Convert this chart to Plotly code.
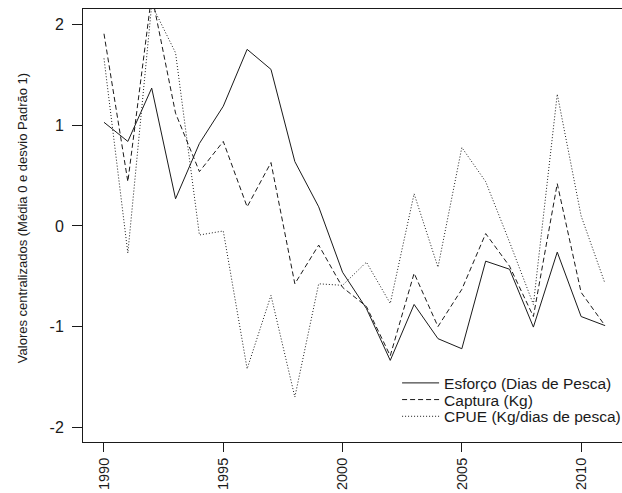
import plotly.graph_objects as go

years = list(range(1990, 2012))
esforco = [1.03, 0.84, 1.37, 0.27, 0.82, 1.19, 1.755, 1.556, 0.64, 0.19, -0.46, -0.82,
           -1.336, -0.78, -1.12, -1.22, -0.35, -0.43, -1.005, -0.26, -0.90, -0.99]
captura = [1.91, 0.44, 2.30, 1.12, 0.54, 0.84, 0.19, 0.63, -0.575, -0.19, -0.61, -0.80,
           -1.29, -0.47, -1.00, -0.63, -0.076, -0.40, -0.90, 0.42, -0.66, -0.99]
cpue = [1.665, -0.27, 2.20, 1.72, -0.09, -0.05, -1.42, -0.69, -1.70, -0.575, -0.59, -0.36,
        -0.77, 0.32, -0.41, 0.78, 0.44, -0.16, -0.78, 1.31, 0.10, -0.57]

names = ["Esforço (Dias de Pesca)", "Captura (Kg)", "CPUE (Kg/dias de pesca)"]
xticks = [1990, 1995, 2000, 2005, 2010]
yticks = [-2, -1, 0, 1, 2]

FONT = "Liberation Sans, Arial, sans-serif"
ink = "#1a1a1a"

fig = go.Figure()
fig.add_trace(go.Scatter(x=years, y=esforco, mode="lines", name=names[0], legend="legend",
                         line=dict(color=ink, width=1, dash="solid")))
fig.add_trace(go.Scatter(x=years, y=captura, mode="lines", name=names[1], legend="legend2",
                         line=dict(color=ink, width=1, dash="5px,3px")))
fig.add_trace(go.Scatter(x=years, y=cpue, mode="lines", name=names[2], legend="legend3",
                         line=dict(color=ink, width=1, dash="1px,2px")))

def leg(ypos):
    return dict(x=0.5795, y=ypos, xanchor="left", yanchor="middle",
                bgcolor="rgba(0,0,0,0)", borderwidth=0,
                font=dict(size=15.5, family=FONT, color=ink), itemwidth=37)

fig.update_layout(
    width=640, height=493,
    margin=dict(l=83, r=15, t=9, b=51, autoexpand=False),
    paper_bgcolor="white", plot_bgcolor="white",
    font=dict(family=FONT, size=16, color=ink),
    showlegend=True,
    legend=leg(0.1355), legend2=leg(0.097), legend3=leg(0.0584),
    xaxis=dict(range=[1989.12, 2011.84], tickvals=xticks, ticktext=[str(v) for v in xticks],
               tickangle=-90, ticks="outside", ticklen=9, tickcolor=ink, tickwidth=1,
               automargin=False,
               showline=True, linecolor=ink, linewidth=1, mirror=True,
               showgrid=False, zeroline=False, tickfont=dict(size=14.5)),
    yaxis=dict(range=[-2.147, 2.156], tickvals=yticks, ticktext=[str(v) for v in yticks],
               ticks="outside", ticklen=10, tickcolor=ink, tickwidth=1,
               ticklabelstandoff=5, automargin=False,
               showline=True, linecolor=ink, linewidth=1, mirror=False,
               showgrid=False, zeroline=False, tickfont=dict(size=16)),
    annotations=[dict(text="Valores centralizados (Média 0 e desvio Padrão 1)",
                      xref="paper", yref="paper", x=0, y=0.517, xshift=-61,
                      xanchor="center", yanchor="middle", textangle=-90,
                      showarrow=False, font=dict(size=13, family=FONT, color=ink))],
)

fig.write_html("out.html", config={"displayModeBar": False},
               post_script="document.body.style.margin='0';document.body.style.overflow='hidden';")
